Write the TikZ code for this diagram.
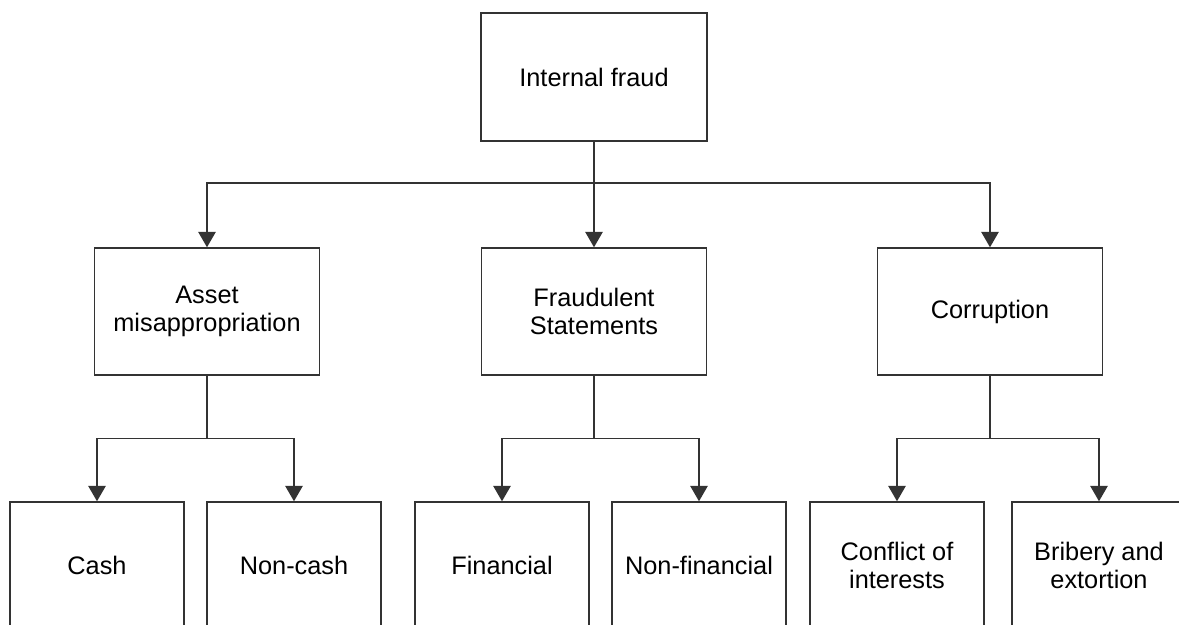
\documentclass[tikz,border=0pt]{standalone}
\usepackage{fontspec}
\setmainfont{Liberation Sans}
\usetikzlibrary{arrows.meta}
\begin{document}
\begin{tikzpicture}[x=0.75pt,y=-0.75pt,
  box/.style={draw=black!80, line width=1.1pt, fill=white, align=center, inner sep=0pt,
    font=\fontsize{19}{21.5}\selectfont, text=black},
  topbox/.style={box, minimum width=169.5pt, minimum height=96pt},
  midbox/.style={box, minimum width=168.75pt, minimum height=95.25pt},
  lowbox/.style={box, minimum width=130.5pt, minimum height=95.25pt},
  conn/.style={draw=black!80, line width=1.1pt},
  arr/.style={conn, -{Triangle[width=13pt,length=11.5pt]}}]
\clip (0,0) rectangle (1179,625);
\fill[white] (0,0) rectangle (1179,625);

\node[topbox] (top) at (594,77) {Internal fraud};

\node[midbox] (m1) at (207,311.5) {Asset\\misappropriation};
\node[midbox] (m2) at (594,311.5) {Fraudulent\\Statements};
\node[midbox] (m3) at (990,311.5) {Corruption};

\node[lowbox] (l1) at (97,565.5) {Cash};
\node[lowbox] (l2) at (294,565.5) {Non-cash};
\node[lowbox] (l3) at (502,565.5) {Financial};
\node[lowbox] (l4) at (699,565.5) {Non-financial};
\node[lowbox] (l5) at (897,565.5) {Conflict of\\interests};
\node[lowbox] (l6) at (1099,565.5) {Bribery and\\extortion};

\coordinate (b0) at (594,183);
\coordinate (b1) at (207,438.5);
\coordinate (b2) at (594,438.5);
\coordinate (b3) at (990,438.5);

\draw[conn] (top.south) -- (b0);
\draw[arr] (b0) -| (m1.north);
\draw[arr] (b0) -- (m2.north);
\draw[arr] (b0) -| (m3.north);

\draw[conn] (m1.south) -- (b1);
\draw[arr] (b1) -| (l1.north);
\draw[arr] (b1) -| (l2.north);

\draw[conn] (m2.south) -- (b2);
\draw[arr] (b2) -| (l3.north);
\draw[arr] (b2) -| (l4.north);

\draw[conn] (m3.south) -- (b3);
\draw[arr] (b3) -| (l5.north);
\draw[arr] (b3) -| (l6.north);
\end{tikzpicture}
\end{document}
